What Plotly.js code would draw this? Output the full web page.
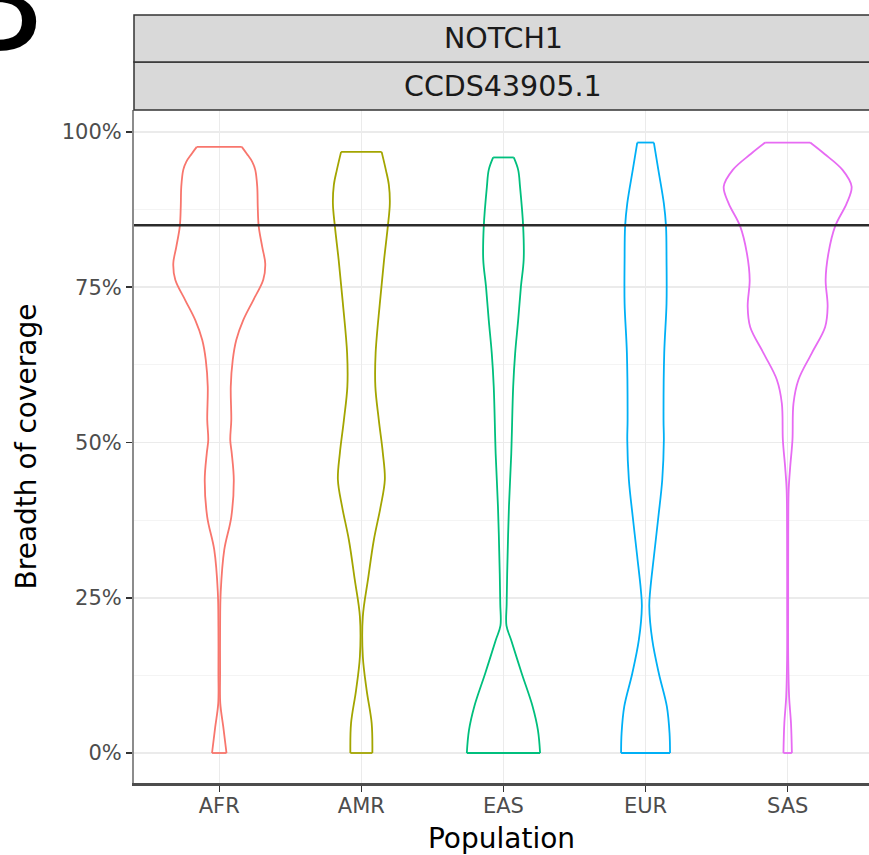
<!DOCTYPE html>
<html>
<head>
<meta charset="utf-8">
<script src="https://cdn.plot.ly/plotly-3.0.1.min.js"></script>
<style>
  html, body { margin: 0; padding: 0; background: #fff; }
  #chart { width: 869px; height: 855px; }
</style>
</head>
<body>
<div id="chart"></div>
<script>
// ---------- data ----------
const populations = ['AFR', 'AMR', 'EAS', 'EUR', 'SAS'];
const colors = ['#F8766D', '#A3A500', '#00BF7D', '#00B0F6', '#E76BF3'];
const yTickVals = [0, 25, 50, 75, 100];
const yTickText = ['0%', '25%', '50%', '75%', '100%'];
const yMinorVals = [12.5, 37.5, 62.5, 87.5];
const thresholdPct = 85;
const facetGene = 'NOTCH1';
const facetTranscript = 'CCDS43905.1';
const panelLetter = 'B';

// breadth of coverage levels (%) and relative density (1 = widest violin)
const afrLevels  = [0, 4.2, 8, 13, 20, 26, 32.7, 38, 44, 48.3, 50.4, 53.6, 59, 63.3, 66.5, 69.7, 72.9, 76.2, 78.8, 81.5, 84.8, 88, 91.2, 93.9, 95.2, 96.5, 97.6];
const afrDensity = [0.113, 0.063, 0.016, 0.013, 0.013, 0.023, 0.078, 0.188, 0.227, 0.195, 0.172, 0.188, 0.180, 0.211, 0.266, 0.375, 0.531, 0.688, 0.719, 0.672, 0.617, 0.602, 0.594, 0.563, 0.516, 0.430, 0.352];

const amrLevels  = [0, 4.8, 10.1, 15.5, 22, 27.9, 34.3, 39.7, 44, 48.3, 53.6, 59, 64.4, 72.4, 79.4, 84.8, 88.5, 91.5, 93.9, 96.8];
const amrDensity = [0.172, 0.161, 0.083, 0.023, 0.023, 0.103, 0.195, 0.302, 0.367, 0.336, 0.273, 0.219, 0.223, 0.289, 0.355, 0.414, 0.445, 0.430, 0.383, 0.317];

const easLevels  = [0, 3.7, 7.5, 12.8, 18.2, 20.5, 24, 28.9, 39.7, 48.2, 59, 64.4, 69.7, 75.1, 79.4, 84.8, 91.2, 93.9, 95.9];
const easDensity = [0.573, 0.539, 0.456, 0.286, 0.120, 0.047, 0.050, 0.058, 0.086, 0.122, 0.152, 0.183, 0.230, 0.273, 0.316, 0.308, 0.259, 0.230, 0.161];

const eurLevels  = [0, 3.2, 7.5, 12.8, 18.2, 23.6, 26.2, 31.6, 38, 44, 50.4, 53.6, 64.4, 72.4, 79.4, 84.8, 88.5, 93.9, 98.3];
const eurDensity = [0.383, 0.375, 0.333, 0.208, 0.105, 0.058, 0.073, 0.130, 0.200, 0.261, 0.286, 0.281, 0.292, 0.328, 0.328, 0.320, 0.286, 0.200, 0.130];

const sasLevels  = [0, 4.8, 9, 15, 25, 35, 42.4, 46, 50.4, 56.3, 60.1, 64.4, 68.6, 71.9, 76.2, 80.5, 84.8, 88.5, 91.2, 93.9, 96.5, 98.3];
const sasDensity = [0.066, 0.052, 0.023, 0.009, 0.008, 0.009, 0.016, 0.039, 0.075, 0.091, 0.169, 0.378, 0.586, 0.625, 0.594, 0.638, 0.742, 0.923, 1.0, 0.858, 0.572, 0.352];

const levelsByPop  = [afrLevels, amrLevels, easLevels, eurLevels, sasLevels];
const densityByPop = [afrDensity, amrDensity, easDensity, eurDensity, sasDensity];

// ---------- build traces ----------
const maxHalfWidth = 0.45; // ggplot violin width 0.9
const lineW = 1.8;
const traces = [];
populations.forEach((pop, i) => {
  const lv = levelsByPop[i];
  const d = densityByPop[i];
  const leftX = lv.map((_, k) => i - d[k] * maxHalfWidth);
  const rightX = lv.map((_, k) => i + d[k] * maxHalfWidth);
  const n = lv.length - 1;
  traces.push({
    type: 'scatter', mode: 'lines', name: pop, showlegend: false, hoverinfo: 'skip',
    x: [...leftX, null, ...rightX], y: [...lv, null, ...lv],
    line: { color: colors[i], width: lineW, shape: 'spline', smoothing: 1 },
    connectgaps: false
  });
  traces.push({
    type: 'scatter', mode: 'lines', name: pop, showlegend: false, hoverinfo: 'skip',
    x: [leftX[0], rightX[0], null, leftX[n], rightX[n]],
    y: [lv[0], lv[0], null, lv[n], lv[n]],
    line: { color: colors[i], width: lineW },
    connectgaps: false
  });
});

// ---------- layout ----------
const W = 869, H = 855;
const mL = 134, mB = 72;
const paperH = H - mB;            // 783
const panelTop = 110;             // px
const strip1Top = 15, stripMid = 62;
const yDomTop = (paperH - panelTop) / paperH;
const yMid = (paperH - stripMid) / paperH;
const yTop = (paperH - strip1Top) / paperH;
const pxPerCat = 142.1;
const xMin = -0.6, xMax = xMin + (W - mL) / pxPerCat;
const panelCenterPaper = ((4.6 - xMin) * pxPerCat / 2) / (W - mL);

const letterSize = 150;
const letterLeftPx = 36 - 0.61 * letterSize - 3;
const letterBottomPx = 51 + 0.212 * letterSize + 2;

const layout = {
  width: W, height: H,
  margin: { l: mL, r: 0, t: 0, b: mB, pad: 0 },
  paper_bgcolor: '#ffffff', plot_bgcolor: '#ffffff',
  font: { family: 'DejaVu Sans, sans-serif', color: '#1A1A1A' },
  showlegend: false,
  xaxis: {
    range: [xMin, xMax], tickmode: 'array', tickvals: populations.map((_, i) => i), ticktext: populations,
    showgrid: true, gridcolor: '#EBEBEB', gridwidth: 1.5, zeroline: false,
    showline: true, linecolor: '#4D4D4D', linewidth: 3,
    ticks: 'outside', ticklen: 6, tickwidth: 1.5, tickcolor: '#333333',
    ticklabelstandoff: -4,
    tickfont: { size: 21, color: '#4D4D4D' },
    title: { text: 'Population', font: { size: 28, color: '#000000' }, standoff: 12 },
    fixedrange: true
  },
  yaxis: {
    domain: [0, yDomTop], range: [-4.83, 103.54],
    tickmode: 'array', tickvals: yTickVals, ticktext: yTickText,
    showgrid: true, gridcolor: '#EBEBEB', gridwidth: 1.5, zeroline: false,
    minor: { tickmode: 'array', tickvals: yMinorVals, showgrid: true, gridcolor: '#F4F4F4', gridwidth: 1, ticks: '' },
    showline: true, linecolor: '#8C8C8C', linewidth: 2,
    ticks: 'outside', ticklen: 6, tickwidth: 1.5, tickcolor: '#333333',
    tickfont: { size: 21, color: '#4D4D4D' },
    title: { text: 'Breadth of coverage', font: { size: 28, color: '#000000' }, standoff: 17 },
    fixedrange: true
  },
  shapes: [
    { type: 'rect', xref: 'paper', yref: 'paper', x0: 0, x1: 1.02, y0: yDomTop, y1: yMid,
      fillcolor: '#D9D9D9', line: { color: '#333333', width: 1.5 }, layer: 'above' },
    { type: 'rect', xref: 'paper', yref: 'paper', x0: 0, x1: 1.02, y0: yMid, y1: yTop,
      fillcolor: '#D9D9D9', line: { color: '#333333', width: 1.5 }, layer: 'above' },
    { type: 'line', xref: 'paper', yref: 'y', x0: 0, x1: 1, y0: thresholdPct, y1: thresholdPct,
      line: { color: '#2B2B2B', width: 2.5 }, layer: 'above' }
  ],
  annotations: [
    { text: facetGene, xref: 'paper', yref: 'paper', x: panelCenterPaper, y: (yMid + yTop) / 2,
      xanchor: 'center', yanchor: 'middle', showarrow: false, font: { size: 28.5, color: '#1A1A1A' } },
    { text: facetTranscript, xref: 'paper', yref: 'paper', x: panelCenterPaper, y: (yDomTop + yMid) / 2,
      xanchor: 'center', yanchor: 'middle', showarrow: false, font: { size: 28.5, color: '#1A1A1A' } },
    { text: panelLetter, xref: 'paper', yref: 'paper', x: (letterLeftPx - mL) / (W - mL), y: (paperH - letterBottomPx) / paperH,
      xanchor: 'left', yanchor: 'bottom', showarrow: false,
      font: { family: 'Liberation Sans, Arial, sans-serif', size: letterSize, color: '#000000' } }
  ]
};

Plotly.newPlot('chart', traces, layout, { staticPlot: true, displayModeBar: false });
</script>
</body>
</html>
